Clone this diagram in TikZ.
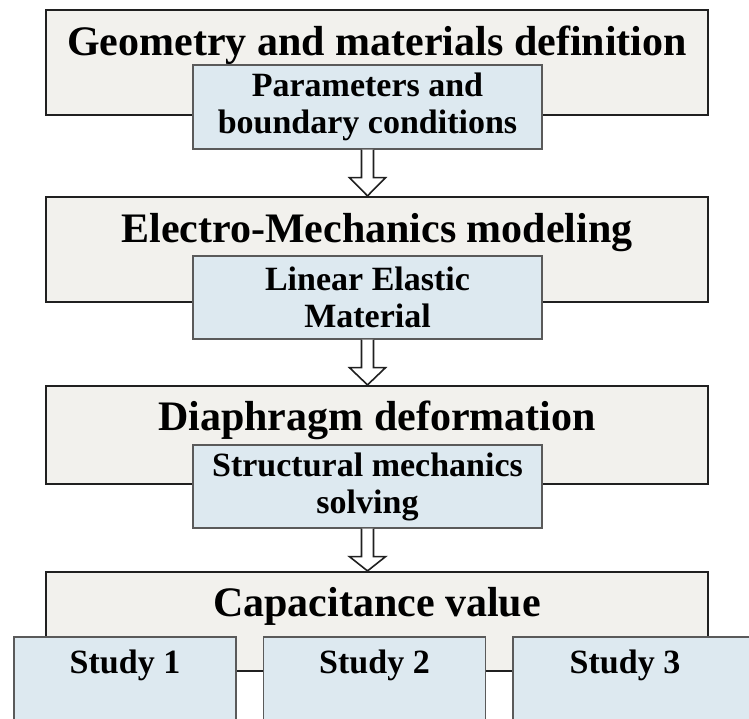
\documentclass[tikz,border=0pt]{standalone}
\usepackage{fontspec}
\setmainfont{Liberation Serif}
\definecolor{greyfill}{HTML}{F2F1ED}
\definecolor{bluefill}{HTML}{DDE9F0}
\definecolor{bigline}{HTML}{202020}
\definecolor{blueline}{HTML}{5A5A5A}
\tikzset{
  bigbox/.style={draw=bigline, line width=2.2pt, fill=greyfill, inner sep=0pt},
  bluebox/.style={draw=blueline, line width=1.3pt, fill=bluefill, inner sep=0pt,
    align=center, font=\fontsize{34}{37}\selectfont\bfseries},
  titletext/.style={anchor=base, inner sep=0pt, font=\fontsize{42}{46}\selectfont\bfseries},
  studytext/.style={anchor=base, inner sep=0pt, font=\fontsize{34}{37}\selectfont\bfseries},
  hollowarrow/.style={draw=bigline, line width=1.6pt, fill=white, line join=miter},
}
\newcommand{\blockarr}[2]{%
  \draw[hollowarrow] ([xshift=-6pt]#1.south) -- ([xshift=-6pt,yshift=-28pt]#1.south)
    -- ([xshift=-18pt,yshift=-28pt]#1.south) -- (#2.north -| #1.south)
    -- ([xshift=18pt,yshift=-28pt]#1.south) -- ([xshift=6pt,yshift=-28pt]#1.south)
    -- ([xshift=6pt]#1.south);}
\begin{document}
\begin{tikzpicture}[x=1pt,y=-1pt]
\clip (0,0) rectangle (749,718);
\fill[white] (0,0) rectangle (749,718);
% big boxes
\node[bigbox, minimum width=662pt, minimum height=105pt] (g1) at (377,62.5) {};
\node[bigbox, minimum width=662pt, minimum height=105pt] (g2) at (377,249.5) {};
\node[bigbox, minimum width=662pt, minimum height=98pt] (g3) at (377,435) {};
\node[bigbox, minimum width=662pt, minimum height=99pt] (g4) at (377,621.5) {};
% titles
\node[titletext] (t1) at (377,55) {Geometry and materials definition};
\node[titletext] (t2) at (377,242) {Electro-Mechanics modeling};
\node[titletext] (t3) at (377,430) {Diaphragm deformation};
\node[titletext] (t4) at (377,616) {Capacitance value};
% blue boxes
\node[bluebox, minimum width=349pt, minimum height=84pt] (b1) at (367.5,107) {Parameters and\\boundary conditions};
\node[bluebox, minimum width=349pt, minimum height=83pt] (b2) at (367.5,297.5) {Linear Elastic\\Material};
\node[bluebox, minimum width=349pt, minimum height=83pt] (b3) at (367.5,486.5) {Structural mechanics\\solving};
% arrows
\blockarr{b1}{g2}
\blockarr{b2}{g3}
\blockarr{b3}{g4}
% studies
\node[bluebox, minimum width=222pt, minimum height=110pt] (s1) at (125,692) {};
\node[bluebox, minimum width=222pt, minimum height=110pt] (s2) at (374.5,692) {};
\node[bluebox, minimum width=250pt, minimum height=110pt] (s3) at (638,692) {};
\node[studytext] (st1) at (125,673) {Study 1};
\node[studytext] (st2) at (374.5,673) {Study 2};
\node[studytext] (st3) at (625,673) {Study 3};
\end{tikzpicture}
\end{document}
